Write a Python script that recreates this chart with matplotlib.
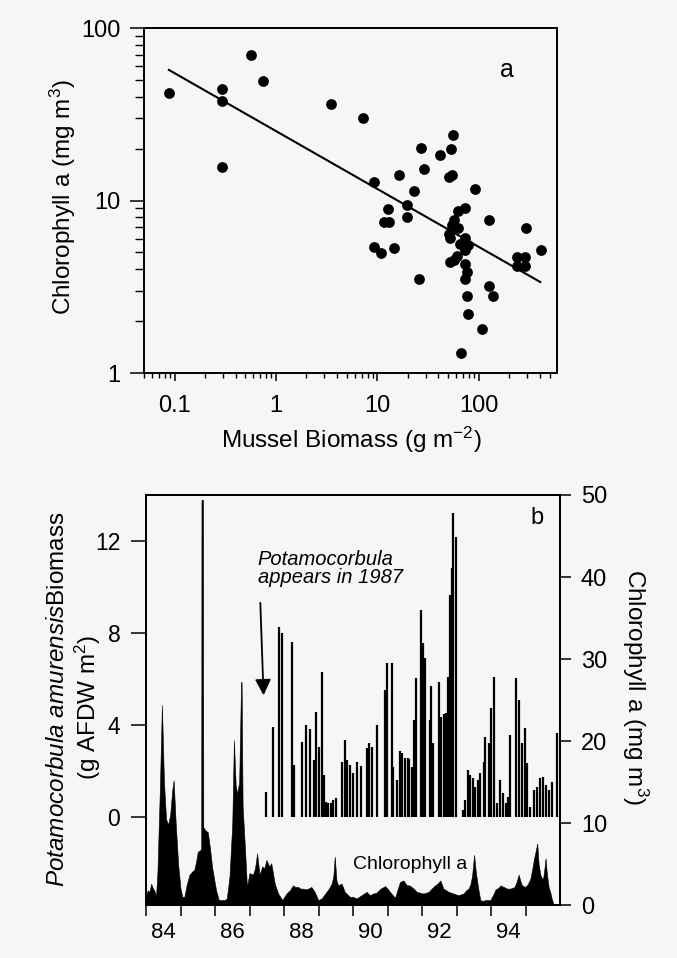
import numpy as np
import matplotlib
matplotlib.use('Agg')
import matplotlib.pyplot as plt
from matplotlib.ticker import NullFormatter, FixedLocator

plt.rcParams['font.family'] = ['Liberation Sans', 'DejaVu Sans']
plt.rcParams['mathtext.fontset'] = 'custom'
plt.rcParams['mathtext.rm'] = 'Liberation Sans'
plt.rcParams['mathtext.it'] = 'Liberation Sans:italic'
plt.rcParams['mathtext.sf'] = 'Liberation Sans'

# ---- panel a : mussel biomass vs chlorophyll (log-log)
mussel = [0.088, 0.295, 0.295, 0.295, 0.574, 0.741, 3.52, 7.16, 55.2, 26.9,
          53.2, 41.5, 29.0, 16.2, 51, 54, 9.2, 22.8, 91.7, 12.7,
          19.6, 19.6, 11.6, 13.0, 9.2, 10.9, 14.7, 25.9, 63, 73.5,
          56.5, 54.5, 63, 50.5, 52.4, 73.5, 65.7, 79, 73.5, 61,
          52.4, 56.5, 73.5, 76.5, 73.5, 76.5, 77.5, 67, 106.6, 127,
          125, 137, 292, 406, 237, 287, 237, 287]
chla = [42.3, 44.6, 37.8, 15.6, 69.8, 49.4, 36.5, 30.3, 24.1, 20.3,
        19.8, 18.4, 15.2, 14.0, 13.7, 14.1, 12.8, 11.3, 11.6, 8.96,
        9.45, 8.08, 7.5, 7.5, 5.37, 4.96, 5.33, 3.53, 8.7, 9.0,
        7.7, 7.2, 6.9, 6.4, 6.1, 6.1, 5.6, 5.5, 5.2, 4.8,
        4.4, 4.5, 4.26, 3.85, 3.5, 2.8, 2.2, 1.31, 1.81, 7.75,
        3.2, 2.8, 6.9, 5.2, 4.72, 4.72, 4.2, 4.2]
fit_x = [0.088, 404]
fit_y = [57.2, 3.37]

# ---- panel b : chlorophyll time series (right axis)
chl_year = [84.00, 84.02, 84.05, 84.10, 84.15, 84.20, 84.24, 84.29, 84.33, 84.40,
            84.46, 84.52, 84.58, 84.64, 84.70, 84.76, 84.80, 84.86, 84.93, 85.00,
            85.05, 85.11, 85.18, 85.26, 85.34, 85.40, 85.46, 85.50, 85.58, 85.600,
            85.607, 85.652, 85.66, 85.69, 85.75, 85.79, 85.86, 85.92, 85.96, 86.03, 86.11,
            86.28, 86.34, 86.42, 86.50, 86.547, 86.60, 86.645, 86.70, 86.755, 86.77, 86.80,
            86.86, 86.925, 87.00, 87.10, 87.16, 87.22, 87.29, 87.37, 87.43, 87.49,
            87.57, 87.63, 87.73, 87.83, 87.95, 88.07, 88.17, 88.26, 88.33, 88.41,
            88.48, 88.55, 88.63, 88.70, 88.79, 88.89, 88.99, 89.09, 89.16, 89.23,
            89.30, 89.38, 89.43, 89.47, 89.52, 89.57, 89.67, 89.76, 89.91, 90.00,
            90.10, 90.25, 90.39, 90.49, 90.58, 90.68, 90.80, 90.93, 91.00, 91.07,
            91.15, 91.22, 91.30, 91.36, 91.46, 91.56, 91.63, 91.70, 91.78, 91.85,
            91.95, 92.04, 92.12, 92.19, 92.28, 92.38, 92.45, 92.53, 92.62, 92.70,
            92.77, 92.85, 92.91, 92.98, 93.06, 93.13, 93.20, 93.28, 93.35, 93.40,
            93.45, 93.51, 93.56, 93.59, 93.65, 93.69, 93.76, 93.83, 93.90, 93.98,
            94.08, 94.13, 94.17, 94.22, 94.27, 94.32, 94.37, 94.42, 94.46, 94.52,
            94.56, 94.62, 94.68, 94.74, 94.80, 94.86, 94.90, 94.95, 94.99, 95.06,
            95.14, 95.20, 95.24, 95.29, 95.34, 95.38, 95.43, 95.47, 95.51, 95.55,
            95.58, 95.62, 95.67, 95.72, 95.77, 95.80]
chl_value = [0.4, 1.4, 1.8, 1.6, 2.6, 2.0, 1.8, 1.0, 4.0, 14.0,
             24.4, 15.0, 10.5, 9.8, 11.0, 14.0, 15.2, 10.0, 5.0, 2.0,
             1.0, 1.0, 2.5, 3.7, 4.1, 4.3, 5.5, 6.5, 6.7, 7.0,
             49.4, 49.4, 9.5, 9.3, 9.0, 8.9, 6.7, 4.5, 3.5, 1.8, 0.6,
             0.6, 0.8, 3.5, 10.0, 20.1, 14.5, 13.6, 15.0, 27.2, 27.2, 12.0,
             7.5, 2.2, 3.9, 3.7, 4.5, 6.3, 3.7, 4.7, 4.5, 5.5,
             4.7, 5.1, 2.6, 1.4, 0.6, 1.4, 1.8, 2.4, 2.2, 2.2,
             2.0, 2.0, 1.9, 2.0, 2.2, 1.6, 0.6, 0.8, 1.2, 1.6,
             2.0, 2.6, 3.5, 5.9, 3.0, 2.4, 2.6, 1.6, 1.0, 1.0,
             0.8, 1.2, 1.6, 1.2, 1.4, 1.5, 2.0, 2.3, 2.0, 1.6,
             1.2, 0.9, 2.0, 2.8, 3.0, 2.4, 2.4, 2.2, 1.9, 1.6,
             1.5, 1.4, 1.5, 1.6, 2.0, 2.4, 2.6, 3.0, 2.0, 1.8,
             1.6, 1.5, 1.4, 1.3, 1.2, 1.3, 1.4, 1.8, 2.0, 2.5,
             3.5, 6.1, 4.0, 3.1, 1.5, 0.6, 0.5, 0.6, 0.6, 0.6,
             1.4, 1.9, 2.0, 2.1, 2.4, 2.3, 2.2, 2.1, 2.0, 2.0,
             2.0, 2.1, 2.2, 2.8, 3.7, 2.8, 2.4, 2.3, 2.2, 2.5,
             3.2, 4.5, 5.5, 6.5, 7.5, 5.0, 3.7, 3.3, 3.2, 4.5,
             5.7, 3.8, 2.2, 1.5, 0.6, 0.3]

# ---- panel b : Potamocorbula biomass (left axis)
bar_year = [87.49, 87.68, 87.86, 87.93, 88.23, 88.29, 88.53, 88.64, 88.74, 88.86,
            88.94, 89.01, 89.09, 89.15, 89.21, 89.28, 89.35, 89.42, 89.52, 89.67,
            89.77, 89.83, 89.91, 89.99, 90.12, 90.22, 90.41, 90.47, 90.54, 90.70,
            90.93, 90.98, 91.12, 91.17, 91.27, 91.36, 91.43, 91.51, 91.58, 91.63,
            91.70, 91.78, 91.84, 91.98, 92.03, 92.09, 92.22, 92.27, 92.33, 92.48,
            92.55, 92.64, 92.70, 92.76, 92.82, 92.86, 92.91, 92.99, 93.18, 93.25,
            93.33, 93.40, 93.48, 93.54, 93.61, 93.69, 93.79, 93.83, 93.93, 94.00,
            94.08, 94.17, 94.25, 94.34, 94.42, 94.48, 94.56, 94.71, 94.80, 94.90,
            94.99, 95.04, 95.14, 95.24, 95.34, 95.43, 95.51, 95.58, 95.67, 95.77,
            95.92]
bar_value = [1.10, 3.93, 8.28, 8.01, 7.62, 2.26, 3.28, 4.00, 3.81, 2.48,
             4.58, 3.06, 6.32, 1.83, 0.67, 0.59, 0.60, 0.74, 0.81, 2.41,
             3.35, 2.48, 2.26, 1.90, 2.41, 2.22, 2.99, 3.20, 3.06, 4.00,
             5.52, 6.68, 6.68, 2.19, 1.61, 2.88, 2.80, 2.55, 2.55, 2.51,
             2.19, 4.22, 6.03, 9.00, 7.55, 6.90, 4.22, 5.70, 3.20, 5.88,
             4.33, 4.48, 4.51, 6.10, 9.65, 10.81, 13.20, 12.19, 0.30, 0.74,
             2.04, 1.83, 1.68, 1.32, 1.61, 1.90, 2.41, 3.49, 3.20, 4.72,
             6.10, 0.59, 1.61, 1.03, 0.59, 0.88, 3.57, 6.03, 5.09, 3.20,
             3.86, 2.33, 0.45, 1.17, 1.32, 1.68, 1.75, 1.39, 1.17, 1.53,
             3.64]

year_ticks = list(range(84, 96))
year_labels = ['84', '86', '88', '90', '92', '94']
year_label_pos = [84.5, 86.5, 88.5, 90.5, 92.5, 94.5]

bg = '#f6f6f6'
fig = plt.figure(figsize=(6.77, 9.58), dpi=100, facecolor=bg)

# ---------------- panel a
ax1 = fig.add_axes([0.2127, 0.6106, 0.610, 0.3601])
ax1.set_facecolor(bg)
ax1.set_xscale('log')
ax1.set_yscale('log')
ax1.scatter(mussel, chla, s=60, c='black', linewidths=0, zorder=3)
ax1.plot(fit_x, fit_y, color='black', lw=1.5)
ax1.set_xlim(0.05, 590)
ax1.set_ylim(1, 100)
ax1.xaxis.set_major_locator(FixedLocator([0.1, 1, 10, 100]))
ax1.set_xticklabels(['0.1', '1', '10', '100'])
ax1.yaxis.set_major_locator(FixedLocator([1, 10, 100]))
ax1.set_yticklabels(['1', '10', '100'])
ax1.xaxis.set_minor_formatter(NullFormatter())
ax1.yaxis.set_minor_formatter(NullFormatter())
ax1.tick_params(axis='x', which='major', direction='out', length=6, width=1.1, pad=10, labelsize=17)
ax1.tick_params(axis='x', which='minor', direction='out', length=3.5, width=1.0)
ax1.tick_params(axis='y', which='major', direction='out', length=10, width=1.1, pad=7, labelsize=17)
ax1.tick_params(axis='y', which='minor', direction='out', length=6.5, width=1.0)
for s in ax1.spines.values():
    s.set_linewidth(1.4)
ax1.text(0.878, 0.878, 'a', transform=ax1.transAxes, fontsize=18, ha='center', va='center')

fig.text(63 / 677, 1 - 197 / 958, 'Chlorophyll a (mg m$^3$)', rotation=90,
         ha='center', va='center', fontsize=17.5)
fig.text(351 / 677, 1 - 440 / 958, 'Mussel Biomass (g m$^{-2}$)',
         ha='center', va='center', fontsize=17.5)

# ---------------- panel b
ax2 = fig.add_axes([0.2157, 0.0553, 0.6115, 0.428])
ax2.set_facecolor(bg)
ax3 = ax2.twinx()

ax3.fill_between(chl_year, chl_value, 0, color='black', lw=0.4, edgecolor='black')
ax2.vlines(bar_year, 0, bar_value, color='black', lw=1.6)

ax2.set_xlim(84, 96)
ax2.set_ylim(-3.83, 14.0)
ax3.set_ylim(0, 50)

ax2.set_xticks(year_ticks)
ax2.set_xticklabels([''] * len(year_ticks))
ax2.set_xticks(year_label_pos, minor=True)
ax2.set_xticklabels(year_labels, minor=True)
ax2.tick_params(axis='x', which='major', direction='out', length=8, width=1.1)
ax2.tick_params(axis='x', which='minor', length=0, pad=12, labelsize=16)

ax2.set_yticks([0, 4, 8, 12])
ax2.tick_params(axis='y', direction='out', length=10.5, width=1.1, pad=8, labelsize=16.5)
ax3.set_yticks([0, 10, 20, 30, 40, 50])
ax3.tick_params(axis='y', direction='out', length=8, width=1.1, pad=7, labelsize=17)
for a in (ax2, ax3):
    for s in a.spines.values():
        s.set_linewidth(1.4)

ax2.text(0.944, 0.944, 'b', transform=ax2.transAxes, fontsize=17, ha='center', va='center')
ax2.text(87.24, 10.8, 'Potamocorbula\nappears in 1987', fontstyle='italic',
         fontsize=14.5, ha='left', va='center', linespacing=0.95)
ax2.annotate('', xy=(87.41, 5.17), xytext=(87.31, 9.43),
             arrowprops=dict(arrowstyle='-|>', color='black', lw=1.3, mutation_scale=24))
ax3.text(89.99, 4.9, 'Chlorophyll a', fontsize=14, ha='left', va='center')

fig.text(58 / 677, 1 - 699 / 958, r'$\mathit{Potamocorbula\ amurensis}$Biomass',
         rotation=90, ha='center', va='center', fontsize=17.5)
fig.text(88 / 677, 1 - 707 / 958, '(g AFDW m$^2$)',
         rotation=90, ha='center', va='center', fontsize=17.5)
fig.text(635 / 677, 1 - 687 / 958, 'Chlorophyll a (mg m$^3$)',
         rotation=270, ha='center', va='center', fontsize=17.5)

fig.savefig('out.png', dpi=100, facecolor=bg)
